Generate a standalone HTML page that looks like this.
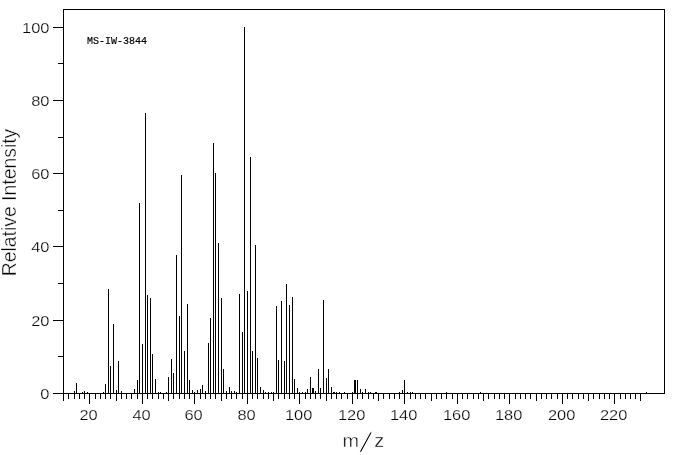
<!DOCTYPE html>
<html><head><meta charset="utf-8"><title>MS-IW-3844</title>
<style>
html,body{margin:0;padding:0;background:#fff;}
svg{display:block}
text{fill:#000;font-family:"Liberation Sans",sans-serif;}
.n{font-size:15.5px;stroke:#fff;stroke-width:0.25px;}
.ax{font-size:20px;stroke:#fff;stroke-width:0.4px;}
.sl{font-size:30px;stroke:#fff;stroke-width:1.2px;}
.id{font-family:"Liberation Mono",monospace;font-size:10px;stroke:#000;stroke-width:0.18px;}
</style></head><body>
<svg width="676" height="455" viewBox="0 0 676 455">
<rect x="0" y="0" width="676" height="455" fill="#fff"/>
<g fill="#000" shape-rendering="crispEdges">
<rect x="63" y="9" width="602" height="1"/><rect x="63" y="9" width="1" height="385"/><rect x="664" y="9" width="1" height="385"/><rect x="53" y="393" width="612" height="1"/><rect x="53" y="393" width="10" height="1"/><rect x="58" y="356" width="5" height="1"/><rect x="53" y="320" width="10" height="1"/><rect x="58" y="283" width="5" height="1"/><rect x="53" y="246" width="10" height="1"/><rect x="58" y="210" width="5" height="1"/><rect x="53" y="173" width="10" height="1"/><rect x="58" y="137" width="5" height="1"/><rect x="53" y="100" width="10" height="1"/><rect x="58" y="63" width="5" height="1"/><rect x="53" y="27" width="10" height="1"/><rect x="63" y="393" width="1" height="8"/><rect x="68" y="393" width="1" height="6"/><rect x="74" y="393" width="1" height="6"/><rect x="79" y="393" width="1" height="6"/><rect x="84" y="393" width="1" height="6"/><rect x="89" y="393" width="1" height="11"/><rect x="95" y="393" width="1" height="6"/><rect x="100" y="393" width="1" height="6"/><rect x="105" y="393" width="1" height="6"/><rect x="110" y="393" width="1" height="6"/><rect x="116" y="393" width="1" height="8"/><rect x="121" y="393" width="1" height="6"/><rect x="126" y="393" width="1" height="6"/><rect x="131" y="393" width="1" height="6"/><rect x="137" y="393" width="1" height="6"/><rect x="142" y="393" width="1" height="11"/><rect x="147" y="393" width="1" height="6"/><rect x="152" y="393" width="1" height="6"/><rect x="158" y="393" width="1" height="6"/><rect x="163" y="393" width="1" height="6"/><rect x="168" y="393" width="1" height="8"/><rect x="173" y="393" width="1" height="6"/><rect x="179" y="393" width="1" height="6"/><rect x="184" y="393" width="1" height="6"/><rect x="189" y="393" width="1" height="6"/><rect x="194" y="393" width="1" height="11"/><rect x="200" y="393" width="1" height="6"/><rect x="205" y="393" width="1" height="6"/><rect x="210" y="393" width="1" height="6"/><rect x="215" y="393" width="1" height="6"/><rect x="221" y="393" width="1" height="8"/><rect x="226" y="393" width="1" height="6"/><rect x="231" y="393" width="1" height="6"/><rect x="236" y="393" width="1" height="6"/><rect x="242" y="393" width="1" height="6"/><rect x="247" y="393" width="1" height="11"/><rect x="252" y="393" width="1" height="6"/><rect x="257" y="393" width="1" height="6"/><rect x="263" y="393" width="1" height="6"/><rect x="268" y="393" width="1" height="6"/><rect x="273" y="393" width="1" height="8"/><rect x="278" y="393" width="1" height="6"/><rect x="284" y="393" width="1" height="6"/><rect x="289" y="393" width="1" height="6"/><rect x="294" y="393" width="1" height="6"/><rect x="299" y="393" width="1" height="11"/><rect x="305" y="393" width="1" height="6"/><rect x="310" y="393" width="1" height="6"/><rect x="315" y="393" width="1" height="6"/><rect x="320" y="393" width="1" height="6"/><rect x="326" y="393" width="1" height="8"/><rect x="331" y="393" width="1" height="6"/><rect x="336" y="393" width="1" height="6"/><rect x="341" y="393" width="1" height="6"/><rect x="347" y="393" width="1" height="6"/><rect x="352" y="393" width="1" height="11"/><rect x="357" y="393" width="1" height="6"/><rect x="362" y="393" width="1" height="6"/><rect x="368" y="393" width="1" height="6"/><rect x="373" y="393" width="1" height="6"/><rect x="378" y="393" width="1" height="8"/><rect x="383" y="393" width="1" height="6"/><rect x="389" y="393" width="1" height="6"/><rect x="394" y="393" width="1" height="6"/><rect x="399" y="393" width="1" height="6"/><rect x="404" y="393" width="1" height="11"/><rect x="410" y="393" width="1" height="6"/><rect x="415" y="393" width="1" height="6"/><rect x="420" y="393" width="1" height="6"/><rect x="425" y="393" width="1" height="6"/><rect x="431" y="393" width="1" height="8"/><rect x="436" y="393" width="1" height="6"/><rect x="441" y="393" width="1" height="6"/><rect x="446" y="393" width="1" height="6"/><rect x="452" y="393" width="1" height="6"/><rect x="457" y="393" width="1" height="11"/><rect x="462" y="393" width="1" height="6"/><rect x="467" y="393" width="1" height="6"/><rect x="473" y="393" width="1" height="6"/><rect x="478" y="393" width="1" height="6"/><rect x="483" y="393" width="1" height="8"/><rect x="488" y="393" width="1" height="6"/><rect x="494" y="393" width="1" height="6"/><rect x="499" y="393" width="1" height="6"/><rect x="504" y="393" width="1" height="6"/><rect x="509" y="393" width="1" height="11"/><rect x="515" y="393" width="1" height="6"/><rect x="520" y="393" width="1" height="6"/><rect x="525" y="393" width="1" height="6"/><rect x="530" y="393" width="1" height="6"/><rect x="536" y="393" width="1" height="8"/><rect x="541" y="393" width="1" height="6"/><rect x="546" y="393" width="1" height="6"/><rect x="551" y="393" width="1" height="6"/><rect x="557" y="393" width="1" height="6"/><rect x="562" y="393" width="1" height="11"/><rect x="567" y="393" width="1" height="6"/><rect x="572" y="393" width="1" height="6"/><rect x="578" y="393" width="1" height="6"/><rect x="583" y="393" width="1" height="6"/><rect x="588" y="393" width="1" height="8"/><rect x="593" y="393" width="1" height="6"/><rect x="599" y="393" width="1" height="6"/><rect x="604" y="393" width="1" height="6"/><rect x="609" y="393" width="1" height="6"/><rect x="614" y="393" width="1" height="11"/><rect x="620" y="393" width="1" height="6"/><rect x="625" y="393" width="1" height="6"/><rect x="630" y="393" width="1" height="6"/><rect x="635" y="393" width="1" height="6"/><rect x="640" y="393" width="1" height="8"/><rect x="74" y="391" width="1" height="3"/><rect x="76" y="383" width="1" height="11"/><rect x="82" y="392" width="1" height="2"/><rect x="84" y="391" width="1" height="3"/><rect x="87" y="392" width="1" height="2"/><rect x="103" y="392" width="1" height="2"/><rect x="105" y="384" width="1" height="10"/><rect x="108" y="289" width="1" height="105"/><rect x="110" y="366" width="1" height="28"/><rect x="113" y="324" width="1" height="70"/><rect x="116" y="390" width="1" height="4"/><rect x="118" y="361" width="1" height="33"/><rect x="121" y="391" width="1" height="3"/><rect x="134" y="389" width="1" height="5"/><rect x="137" y="380" width="1" height="14"/><rect x="139" y="203" width="1" height="191"/><rect x="142" y="344" width="1" height="50"/><rect x="145" y="113" width="1" height="281"/><rect x="147" y="295" width="1" height="99"/><rect x="150" y="298" width="1" height="96"/><rect x="152" y="354" width="1" height="40"/><rect x="155" y="379" width="1" height="15"/><rect x="158" y="392" width="1" height="2"/><rect x="160" y="392" width="1" height="2"/><rect x="166" y="392" width="1" height="2"/><rect x="168" y="377" width="1" height="17"/><rect x="171" y="359" width="1" height="35"/><rect x="173" y="373" width="1" height="21"/><rect x="176" y="255" width="1" height="139"/><rect x="179" y="316" width="1" height="78"/><rect x="181" y="175" width="1" height="219"/><rect x="184" y="351" width="1" height="43"/><rect x="187" y="304" width="1" height="90"/><rect x="189" y="380" width="1" height="14"/><rect x="192" y="390" width="1" height="4"/><rect x="194" y="392" width="1" height="2"/><rect x="197" y="390" width="1" height="4"/><rect x="200" y="389" width="1" height="5"/><rect x="202" y="385" width="1" height="9"/><rect x="205" y="391" width="1" height="3"/><rect x="208" y="343" width="1" height="51"/><rect x="210" y="318" width="1" height="76"/><rect x="213" y="143" width="1" height="251"/><rect x="215" y="173" width="1" height="221"/><rect x="218" y="243" width="1" height="151"/><rect x="221" y="298" width="1" height="96"/><rect x="223" y="369" width="1" height="25"/><rect x="226" y="391" width="1" height="3"/><rect x="229" y="387" width="1" height="7"/><rect x="231" y="391" width="1" height="3"/><rect x="234" y="391" width="1" height="3"/><rect x="236" y="392" width="1" height="2"/><rect x="239" y="294" width="1" height="100"/><rect x="242" y="332" width="1" height="62"/><rect x="244" y="27" width="1" height="367"/><rect x="247" y="291" width="1" height="103"/><rect x="250" y="157" width="1" height="237"/><rect x="252" y="351" width="1" height="43"/><rect x="255" y="245" width="1" height="149"/><rect x="257" y="358" width="1" height="36"/><rect x="260" y="387" width="1" height="7"/><rect x="263" y="390" width="1" height="4"/><rect x="265" y="392" width="1" height="2"/><rect x="268" y="392" width="1" height="2"/><rect x="271" y="392" width="1" height="2"/><rect x="273" y="392" width="1" height="2"/><rect x="276" y="306" width="1" height="88"/><rect x="278" y="360" width="1" height="34"/><rect x="281" y="301" width="1" height="93"/><rect x="284" y="361" width="1" height="33"/><rect x="286" y="284" width="1" height="110"/><rect x="289" y="305" width="1" height="89"/><rect x="292" y="297" width="1" height="97"/><rect x="294" y="379" width="1" height="15"/><rect x="297" y="388" width="1" height="6"/><rect x="299" y="392" width="1" height="2"/><rect x="302" y="392" width="1" height="2"/><rect x="305" y="392" width="1" height="2"/><rect x="307" y="389" width="1" height="5"/><rect x="310" y="377" width="1" height="17"/><rect x="313" y="388" width="1" height="6"/><rect x="315" y="391" width="1" height="3"/><rect x="318" y="369" width="1" height="25"/><rect x="320" y="388" width="1" height="6"/><rect x="323" y="300" width="1" height="94"/><rect x="326" y="378" width="1" height="16"/><rect x="328" y="369" width="1" height="25"/><rect x="331" y="387" width="1" height="7"/><rect x="334" y="392" width="1" height="2"/><rect x="336" y="392" width="1" height="2"/><rect x="339" y="392" width="1" height="2"/><rect x="344" y="392" width="1" height="2"/><rect x="352" y="392" width="1" height="2"/><rect x="355" y="380" width="1" height="14"/><rect x="357" y="380" width="1" height="14"/><rect x="360" y="389" width="1" height="5"/><rect x="362" y="392" width="1" height="2"/><rect x="365" y="389" width="1" height="5"/><rect x="368" y="392" width="1" height="2"/><rect x="370" y="392" width="1" height="2"/><rect x="376" y="392" width="1" height="2"/><rect x="399" y="392" width="1" height="2"/><rect x="402" y="390" width="1" height="4"/><rect x="404" y="380" width="1" height="14"/><rect x="407" y="392" width="1" height="2"/><rect x="410" y="392" width="1" height="2"/><rect x="412" y="392" width="1" height="2"/><rect x="446" y="392" width="1" height="2"/><rect x="480" y="392" width="1" height="2"/><rect x="646" y="392" width="1" height="2"/><rect x="312" y="388" width="1" height="6"/><rect x="333" y="392" width="1" height="2"/><rect x="354" y="380" width="1" height="14"/><rect x="375" y="392" width="1" height="2"/>
</g>
<text x="49.5" y="398.5" text-anchor="end" class="n" textLength="9.15" lengthAdjust="spacingAndGlyphs">0</text><text x="49.5" y="325.5" text-anchor="end" class="n" textLength="18.30" lengthAdjust="spacingAndGlyphs">20</text><text x="49.5" y="251.5" text-anchor="end" class="n" textLength="18.30" lengthAdjust="spacingAndGlyphs">40</text><text x="49.5" y="178.5" text-anchor="end" class="n" textLength="18.30" lengthAdjust="spacingAndGlyphs">60</text><text x="49.5" y="105.5" text-anchor="end" class="n" textLength="18.30" lengthAdjust="spacingAndGlyphs">80</text><text x="49.5" y="32.5" text-anchor="end" class="n" textLength="27.45" lengthAdjust="spacingAndGlyphs">100</text><text x="88.6" y="419.6" text-anchor="middle" class="n" textLength="18.30" lengthAdjust="spacingAndGlyphs">20</text><text x="141.6" y="419.6" text-anchor="middle" class="n" textLength="18.30" lengthAdjust="spacingAndGlyphs">40</text><text x="193.6" y="419.6" text-anchor="middle" class="n" textLength="18.30" lengthAdjust="spacingAndGlyphs">60</text><text x="246.6" y="419.6" text-anchor="middle" class="n" textLength="18.30" lengthAdjust="spacingAndGlyphs">80</text><text x="298.6" y="419.6" text-anchor="middle" class="n" textLength="27.45" lengthAdjust="spacingAndGlyphs">100</text><text x="351.6" y="419.6" text-anchor="middle" class="n" textLength="27.45" lengthAdjust="spacingAndGlyphs">120</text><text x="403.6" y="419.6" text-anchor="middle" class="n" textLength="27.45" lengthAdjust="spacingAndGlyphs">140</text><text x="456.6" y="419.6" text-anchor="middle" class="n" textLength="27.45" lengthAdjust="spacingAndGlyphs">160</text><text x="508.6" y="419.6" text-anchor="middle" class="n" textLength="27.45" lengthAdjust="spacingAndGlyphs">180</text><text x="561.6" y="419.6" text-anchor="middle" class="n" textLength="27.45" lengthAdjust="spacingAndGlyphs">200</text><text x="613.6" y="419.6" text-anchor="middle" class="n" textLength="27.45" lengthAdjust="spacingAndGlyphs">220</text><text x="87" y="44" class="id">MS-IW-3844</text><text transform="translate(342.4,447.2) scale(1.107,1)" class="ax" style="font-size:18px">m<tspan class="sl" rotate="11" dx="0" dy="4.6">/</tspan><tspan dx="5.4" dy="-4.6">z</tspan></text><text transform="translate(16.3,202.5) rotate(-90)" text-anchor="middle" class="ax" textLength="147.5" lengthAdjust="spacingAndGlyphs">Relative Intensity</text>
</svg>
</body></html>
